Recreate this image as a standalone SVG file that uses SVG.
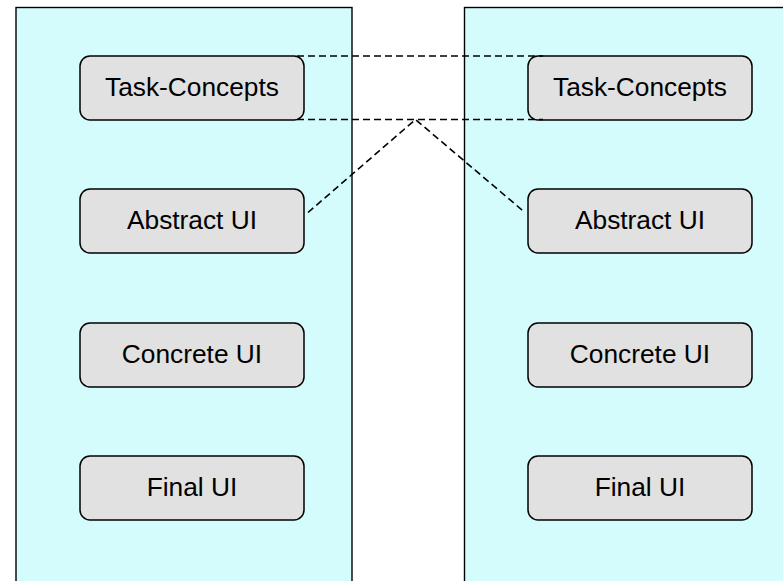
<svg xmlns="http://www.w3.org/2000/svg" width="783" height="581" viewBox="0 0 783 581">
<style>
.panel{fill:#D4FCFC;stroke:#000;stroke-width:1.4}
.node rect{fill:#E1E1E1;stroke:#000;stroke-width:1.5}
.node text{font-family:"Liberation Sans",Arial,sans-serif;font-size:26.3px;fill:#000;text-anchor:middle}
.dash{fill:none;stroke:#000;stroke-width:1.6;stroke-dasharray:7 4}
</style>
<rect width="783" height="581" fill="#fff"/>
<g id="panel-left"><rect class="panel" x="16" y="7.5" width="336" height="590"/></g>
<g id="panel-right"><rect class="panel" x="464.5" y="7.5" width="340" height="590"/></g>
<g id="left-task" class="node"><rect x="80" y="56" width="224" height="64" rx="10"/><text x="192" y="96">Task-Concepts</text></g>
<g id="left-abstract" class="node"><rect x="80" y="189" width="224" height="64" rx="10"/><text x="192" y="229">Abstract UI</text></g>
<g id="left-concrete" class="node"><rect x="80" y="323" width="224" height="64" rx="10"/><text x="192" y="363">Concrete UI</text></g>
<g id="left-final" class="node"><rect x="80" y="456" width="224" height="64" rx="10"/><text x="192" y="496">Final UI</text></g>
<g id="right-task" class="node"><rect x="528" y="56" width="224" height="64" rx="10"/><text x="640" y="96">Task-Concepts</text></g>
<g id="right-abstract" class="node"><rect x="528" y="189" width="224" height="64" rx="10"/><text x="640" y="229">Abstract UI</text></g>
<g id="right-concrete" class="node"><rect x="528" y="323" width="224" height="64" rx="10"/><text x="640" y="363">Concrete UI</text></g>
<g id="right-final" class="node"><rect x="528" y="456" width="224" height="64" rx="10"/><text x="640" y="496">Final UI</text></g>
<g id="connectors">
<line class="dash" x1="297" y1="56" x2="543" y2="56"/>
<line class="dash" x1="297" y1="119.5" x2="543" y2="119.5"/>
<polyline class="dash" points="308,212.5 415.5,119.5 525,212.5"/>
</g>
</svg>
